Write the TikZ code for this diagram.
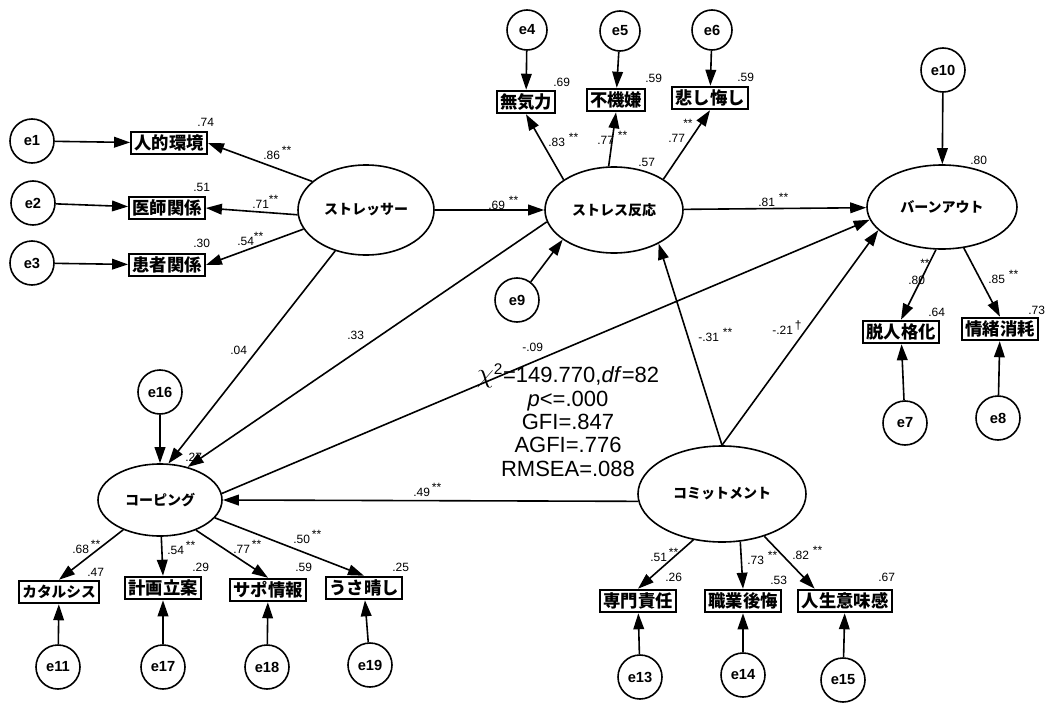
\documentclass[tikz,border=0pt]{standalone}
\usepackage{fontspec}
\setmainfont{Liberation Sans}
\newfontfamily\jp{Noto Sans CJK JP}
\usetikzlibrary{shapes.geometric, arrows.meta}
\newcommand{\sig}[1]{\raisebox{0.75ex}{#1}}

\begin{document}
\begin{tikzpicture}[
  x=0.75pt, y=-0.75pt,
  latent/.style={ellipse, draw=black, line width=1.2pt, inner sep=0pt,
                 font=\jp\bfseries\fontsize{10.5}{12}\selectfont},
  obs/.style={rectangle, draw=black, line width=1.4pt, inner xsep=2.5pt,
              inner ysep=0pt, minimum height=17pt,
              font=\jp\bfseries\fontsize{13}{14}\selectfont},
  err/.style={circle, draw=black, line width=1.2pt, minimum size=33pt,
              inner sep=0pt, font=\bfseries\fontsize{11}{12}\selectfont},
  arr/.style={-{Triangle[length=12pt,width=8pt]}, line width=1.2pt},
  coef/.style={anchor=west, inner sep=0pt, font=\fontsize{9}{10}\selectfont},
  fitstat/.style={align=center, font=\fontsize{16.5}{17.5}\selectfont}
]
\useasboundingbox (0,0) rectangle (1054,703);

% Latent variables
\node[latent, minimum width=102pt, minimum height=67.5pt] (stressor) at (366,210) {ストレッサー};
\node[latent, minimum width=103.5pt, minimum height=64.5pt] (stress) at (614,210) {ストレス反応};
\node[latent, minimum width=112.5pt, minimum height=63pt] (burnout) at (942,207) {バーンアウト};
\node[latent, minimum width=93pt, minimum height=54pt] (coping) at (160,500) {コーピング};
\node[latent, minimum width=126pt, minimum height=72pt] (commit) at (722,494) {コミットメント};

% Observed variables
\node[obs] (kankyo) at (169,143) {人的環境};
\node[obs] (ishi) at (167,208) {医師関係};
\node[obs] (kanja) at (167,265) {患者関係};
\node[obs] (muki) at (526,102) {無気力};
\node[obs] (fuki) at (616,100) {不機嫌};
\node[obs] (hiai) at (710,98) {悲し悔し};
\node[obs] (datsu) at (901,332) {脱人格化};
\node[obs] (jocho) at (1000,329) {情緒消耗};
\node[obs, font=\jp\bfseries\fontsize{11}{12}\selectfont] (kata) at (59,592) {カタルシス};
\node[obs] (keikaku) at (163,588) {計画立案};
\node[obs] (sapo) at (268,590) {サポ情報};
\node[obs] (usa) at (364,588) {うさ晴し};
\node[obs] (senmon) at (638,601) {専門責任};
\node[obs] (kokai) at (743,601) {職業後悔};
\node[obs] (imi) at (845,601) {人生意味感};

% Error terms
\node[err] (e1) at (32,141) {e1};
\node[err] (e2) at (33,203) {e2};
\node[err] (e3) at (32,263) {e3};
\node[err, minimum size=30pt] (e4) at (527,30) {e4};
\node[err, minimum size=30pt] (e5) at (620,31) {e5};
\node[err, minimum size=30pt] (e6) at (712,30) {e6};
\node[err] (e9) at (517,300) {e9};
\node[err] (e10) at (943,70) {e10};
\node[err] (e7) at (905,423) {e7};
\node[err] (e8) at (998,418) {e8};
\node[err] (e16) at (160,392) {e16};
\node[err] (e11) at (58,667) {e11};
\node[err] (e17) at (163,667) {e17};
\node[err] (e18) at (267,667) {e18};
\node[err] (e19) at (370,665) {e19};
\node[err] (e13) at (640,677) {e13};
\node[err] (e14) at (743,675) {e14};
\node[err] (e15) at (843,680) {e15};

% Errors into their variables
\draw[arr] (e1) -- (kankyo);
\draw[arr] (e2) -- (ishi);
\draw[arr] (e3) -- (kanja);
\draw[arr] (e4) -- (muki);
\draw[arr] (e5) -- (fuki);
\draw[arr] (e6) -- (hiai);
\draw[arr] (e9) -- (stress.210);
\draw[arr] (e10) -- (burnout);
\draw[arr] (e7) -- (datsu);
\draw[arr] (e8) -- (jocho);
\draw[arr] (e16) -- (coping);
\draw[arr] (e11) -- (kata);
\draw[arr] (e17) -- (keikaku);
\draw[arr] (e18) -- (sapo);
\draw[arr] (e19) -- (usa);
\draw[arr] (e13) -- (senmon);
\draw[arr] (e14) -- (kokai);
\draw[arr] (e15) -- (imi);

% Measurement paths
\draw[arr] (stressor.152) -- (kankyo.east);
\draw[arr] (stressor.184) -- (ishi.east);
\draw[arr] (stressor.197) -- (kanja.east);
\draw[arr] (stress.149) -- (muki.south);
\draw[arr] (stress.97) -- (fuki.south);
\draw[arr] (stress.32) -- (hiai.south);
\draw[arr] (burnout.262) -- (datsu.north);
\draw[arr] (burnout.298) -- (jocho.north);
\draw[arr] (coping.219) -- (kata.north);
\draw[arr] (coping.272) -- (keikaku.north);
\draw[arr] (coping.320) -- (sapo.north);
\draw[arr] (coping.342) -- (usa.north);
\draw[arr] (commit.238) -- (senmon.north);
\draw[arr] (commit.291) -- (kokai.north);
\draw[arr] (commit.315) -- (imi.158);

% Structural paths
\draw[arr] (stressor) -- (stress);
\draw[arr] (stress) -- (burnout);
\draw[arr] (stressor.233) -- (coping.77);
\draw[arr] (stress.190) -- (coping.50);
\draw[arr] (coping.6) -- (burnout.190);
\draw[arr] (commit.90) -- (stress.323);
\draw[arr] (commit.90) -- (burnout.200);
\draw[arr] (commit.185) -- (coping.east);

% Coefficients
\node[coef] at (197,122) {.74};
\node[coef] at (263,153) {.86\,\sig{**}};
\node[coef] at (193,187) {.51};
\node[coef] at (252,202) {.71\sig{**}};
\node[coef] at (193,243) {.30};
\node[coef] at (237,239) {.54\sig{**}};
\node[coef] at (553,82) {.69};
\node[coef] at (645,78) {.59};
\node[coef] at (737,77) {.59};
\node[coef] at (548,140) {.83\,\,\sig{**}};
\node[coef] at (597,138) {.77\,\,\sig{**}};
\node[coef] at (668,138) {.77};
\node[coef] at (683,123) {**};
\node[coef] at (638,162) {.57};
\node[coef] at (488,203) {.69\,\,\sig{**}};
\node[coef] at (758,200) {.81\,\,\sig{**}};
\node[coef] at (970,160) {.80};
\node[coef] at (908,280) {.80};
\node[coef] at (920,263) {**};
\node[coef] at (988,277) {.85\,\,\sig{**}};
\node[coef] at (928,312) {.64};
\node[coef] at (1028,310) {.73};
\node[coef] at (772,328) {-.21\,\sig{\dag}};
\node[coef] at (698,335) {-.31\,\,\sig{**}};
\node[coef] at (230,350) {.04};
\node[coef] at (347,335) {.33};
\node[coef] at (522,347) {-.09};
\node[coef] at (185,457) {.27};
\node[coef] at (413,490) {.49\,\sig{**}};
\node[coef] at (72,547) {.68\,\sig{**}};
\node[coef] at (87,572) {.47};
\node[coef] at (167,548) {.54\,\sig{**}};
\node[coef] at (192,567) {.29};
\node[coef] at (233,547) {.77\,\sig{**}};
\node[coef] at (295,567) {.59};
\node[coef] at (293,537) {.50\,\sig{**}};
\node[coef] at (392,567) {.25};
\node[coef] at (650,555) {.51\,\sig{**}};
\node[coef] at (665,577) {.26};
\node[coef] at (747,558) {.73\,\,\sig{**}};
\node[coef] at (770,580) {.53};
\node[coef] at (792,553) {.82\,\,\sig{**}};
\node[coef] at (878,577) {.67};

% Fit indices
\node[fitstat] (gof) at (568,420) {{\fontsize{22}{22}\selectfont$\chi$}\textsuperscript{2}=149.770,\textit{df}=82\\\textit{p}<=.000\\GFI=.847\\AGFI=.776\\RMSEA=.088};

\end{tikzpicture}
\end{document}
